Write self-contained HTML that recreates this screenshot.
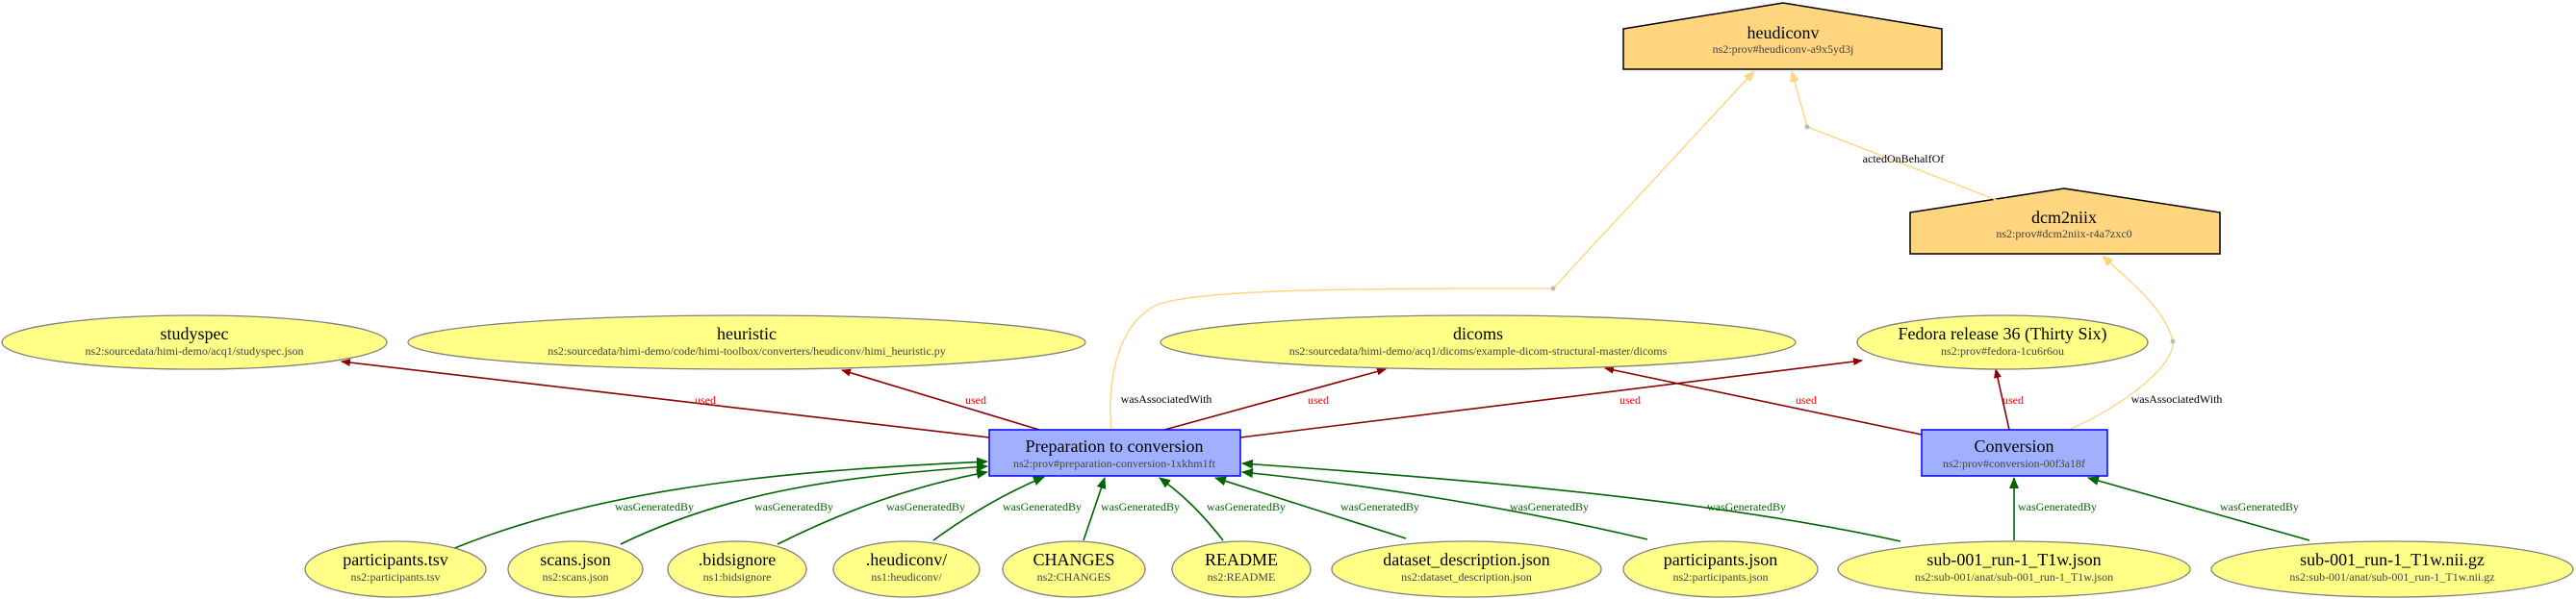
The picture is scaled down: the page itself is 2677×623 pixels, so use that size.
<!DOCTYPE html>
<html><head><meta charset="utf-8"><style>
html,body{margin:0;padding:0;background:#fff;}
svg{display:block;font-family:"Liberation Serif",serif;}
.t{font-size:18px;fill:#000;text-anchor:middle;}
.s{font-size:12px;fill:#444;text-anchor:middle;}
.u{font-size:12px;fill:#ff0000;text-anchor:middle;}
.g{font-size:12px;fill:#006400;text-anchor:middle;}
.k{font-size:12px;fill:#000;text-anchor:middle;}
.e{fill:#ffff88;stroke:#808080;stroke-width:1.3;}
.r{fill:#a0b0ff;stroke:#0000ff;stroke-width:1.5;}
.a{fill:#ffd580;stroke:#000;stroke-width:1.5;}
.ul{stroke:#8b0000;stroke-width:1.6;fill:none;}
.gl{stroke:#006400;stroke-width:1.6;fill:none;}
.yl{stroke:#ffd580;stroke-width:1.4;fill:none;}
</style></head><body>
<svg width="2677" height="623" viewBox="0 0 2677 623" xmlns="http://www.w3.org/2000/svg">
<defs>
<marker id="mr" markerWidth="10" markerHeight="8" refX="9" refY="4" orient="auto" markerUnits="userSpaceOnUse"><path d="M0,0L10,4L0,8z" fill="#8b0000"/></marker>
<marker id="mg" markerWidth="12" markerHeight="10" refX="11" refY="5" orient="auto" markerUnits="userSpaceOnUse"><path d="M0,0L12,5L0,10z" fill="#006400"/></marker>
<marker id="my" markerWidth="12" markerHeight="10" refX="11" refY="5" orient="auto" markerUnits="userSpaceOnUse"><path d="M0,0L12,5L0,10z" fill="#ffd580"/></marker>
</defs>

<!-- agents -->
<polygon class="a" points="1687,30 1853,3 2018,30 2018,72 1687,72"/>
<text class="t" x="1853" y="40">heudiconv</text>
<text class="s" x="1853" y="55">ns2:prov#heudiconv-a9x5yd3j</text>
<polygon class="a" points="1985,221 2145,196 2307,221 2307,264 1985,264"/>
<text class="t" x="2145" y="232">dcm2niix</text>
<text class="s" x="2145" y="247">ns2:prov#dcm2niix-r4a7zxc0</text>

<!-- yellow edges -->
<path class="yl" d="M1155,447 C1150,400 1160,340 1200,318 C1240,300 1420,300 1614,300 L1823,74" marker-end="url(#my)"/>
<path class="yl" d="M2080,210 L1878,132 L1862,74" marker-end="url(#my)"/>
<path class="yl" d="M2150,447 C2210,420 2260,380 2258,355 C2250,320 2210,290 2185,266" marker-end="url(#my)"/>
<circle cx="1614" cy="300" r="2.5" fill="#bbb"/>
<circle cx="1878" cy="132" r="2.5" fill="#bbb"/>
<circle cx="2258" cy="355" r="2.5" fill="#bbb"/>
<text class="k" x="1212" y="419">wasAssociatedWith</text>
<text class="k" x="1978" y="169">actedOnBehalfOf</text>
<text class="k" x="2262" y="419">wasAssociatedWith</text>

<!-- used edges -->
<path class="ul" d="M1028,455 L355,376" marker-end="url(#mr)"/>
<path class="ul" d="M1080,447 L875,385" marker-end="url(#mr)"/>
<path class="ul" d="M1210,447 L1440,384" marker-end="url(#mr)"/>
<path class="ul" d="M1289,455 L1935,375" marker-end="url(#mr)"/>
<path class="ul" d="M1997,452 L1668,383" marker-end="url(#mr)"/>
<path class="ul" d="M2088,447 L2074,384" marker-end="url(#mr)"/>
<text class="u" x="733" y="420">used</text>
<text class="u" x="1014" y="420">used</text>
<text class="u" x="1370" y="420">used</text>
<text class="u" x="1694" y="420">used</text>
<text class="u" x="1877" y="420">used</text>
<text class="u" x="2092" y="420">used</text>

<!-- row 2 entities -->
<ellipse class="e" cx="202" cy="356" rx="200" ry="28"/>
<text class="t" x="202" y="353">studyspec</text>
<text class="s" x="202" y="369">ns2:sourcedata/himi-demo/acq1/studyspec.json</text>
<ellipse class="e" cx="776" cy="356" rx="352" ry="28"/>
<text class="t" x="776" y="353">heuristic</text>
<text class="s" x="776" y="369">ns2:sourcedata/himi-demo/code/himi-toolbox/converters/heudiconv/himi_heuristic.py</text>
<ellipse class="e" cx="1536" cy="356" rx="330" ry="28"/>
<text class="t" x="1536" y="353">dicoms</text>
<text class="s" x="1536" y="369">ns2:sourcedata/himi-demo/acq1/dicoms/example-dicom-structural-master/dicoms</text>
<ellipse class="e" cx="2081" cy="356" rx="151" ry="28"/>
<text class="t" x="2081" y="353">Fedora release 36 (Thirty Six)</text>
<text class="s" x="2081" y="369">ns2:prov#fedora-1cu6r6ou</text>

<!-- green edges -->
<path class="gl" d="M470,571 C620,510 800,490 1026,480" marker-end="url(#mg)"/>
<path class="gl" d="M645,566 C760,510 880,495 1026,485" marker-end="url(#mg)"/>
<path class="gl" d="M808,566 C880,530 950,505 1026,491" marker-end="url(#mg)"/>
<path class="gl" d="M970,562 C1000,540 1040,515 1085,496" marker-end="url(#mg)"/>
<path class="gl" d="M1126,562 L1148,497" marker-end="url(#mg)"/>
<path class="gl" d="M1271,562 C1250,535 1230,515 1205,497" marker-end="url(#mg)"/>
<path class="gl" d="M1461,560 L1263,497" marker-end="url(#mg)"/>
<path class="gl" d="M1712,561 C1580,530 1430,505 1291,491" marker-end="url(#mg)"/>
<path class="gl" d="M1975,563 C1780,520 1520,498 1291,482" marker-end="url(#mg)"/>
<path class="gl" d="M2093,562 L2093,497" marker-end="url(#mg)"/>
<path class="gl" d="M2400,562 L2170,497" marker-end="url(#mg)"/>
<text class="g" x="680" y="531">wasGeneratedBy</text>
<text class="g" x="825" y="531">wasGeneratedBy</text>
<text class="g" x="962" y="531">wasGeneratedBy</text>
<text class="g" x="1083" y="531">wasGeneratedBy</text>
<text class="g" x="1185" y="531">wasGeneratedBy</text>
<text class="g" x="1295" y="531">wasGeneratedBy</text>
<text class="g" x="1434" y="531">wasGeneratedBy</text>
<text class="g" x="1610" y="531">wasGeneratedBy</text>
<text class="g" x="1815" y="531">wasGeneratedBy</text>
<text class="g" x="2138" y="531">wasGeneratedBy</text>
<text class="g" x="2348" y="531">wasGeneratedBy</text>

<!-- activities -->
<rect class="r" x="1028" y="447" width="261" height="48"/>
<text class="t" x="1158" y="470">Preparation to conversion</text>
<text class="s" x="1158" y="486">ns2:prov#preparation-conversion-1xkhm1ft</text>
<rect class="r" x="1997" y="447" width="193" height="48"/>
<text class="t" x="2093" y="470">Conversion</text>
<text class="s" x="2093" y="486">ns2:prov#conversion-00f3a18f</text>

<!-- bottom entities -->
<ellipse class="e" cx="411" cy="592" rx="94" ry="29"/>
<text class="t" x="411" y="588">participants.tsv</text>
<text class="s" x="411" y="604">ns2:participants.tsv</text>
<ellipse class="e" cx="598" cy="592" rx="70" ry="29"/>
<text class="t" x="598" y="588">scans.json</text>
<text class="s" x="598" y="604">ns2:scans.json</text>
<ellipse class="e" cx="766" cy="592" rx="72" ry="29"/>
<text class="t" x="766" y="588">.bidsignore</text>
<text class="s" x="766" y="604">ns1:bidsignore</text>
<ellipse class="e" cx="942" cy="592" rx="76" ry="29"/>
<text class="t" x="942" y="588">.heudiconv/</text>
<text class="s" x="942" y="604">ns1:heudiconv/</text>
<ellipse class="e" cx="1116" cy="592" rx="74" ry="29"/>
<text class="t" x="1116" y="588">CHANGES</text>
<text class="s" x="1116" y="604">ns2:CHANGES</text>
<ellipse class="e" cx="1290" cy="592" rx="72" ry="29"/>
<text class="t" x="1290" y="588">README</text>
<text class="s" x="1290" y="604">ns2:README</text>
<ellipse class="e" cx="1524" cy="592" rx="140" ry="29"/>
<text class="t" x="1524" y="588">dataset_description.json</text>
<text class="s" x="1524" y="604">ns2:dataset_description.json</text>
<ellipse class="e" cx="1788" cy="592" rx="101" ry="29"/>
<text class="t" x="1788" y="588">participants.json</text>
<text class="s" x="1788" y="604">ns2:participants.json</text>
<ellipse class="e" cx="2093" cy="592" rx="183" ry="29"/>
<text class="t" x="2093" y="588">sub-001_run-1_T1w.json</text>
<text class="s" x="2093" y="604">ns2:sub-001/anat/sub-001_run-1_T1w.json</text>
<ellipse class="e" cx="2486" cy="592" rx="188" ry="29"/>
<text class="t" x="2486" y="588">sub-001_run-1_T1w.nii.gz</text>
<text class="s" x="2486" y="604">ns2:sub-001/anat/sub-001_run-1_T1w.nii.gz</text>
</svg>
</body></html>
